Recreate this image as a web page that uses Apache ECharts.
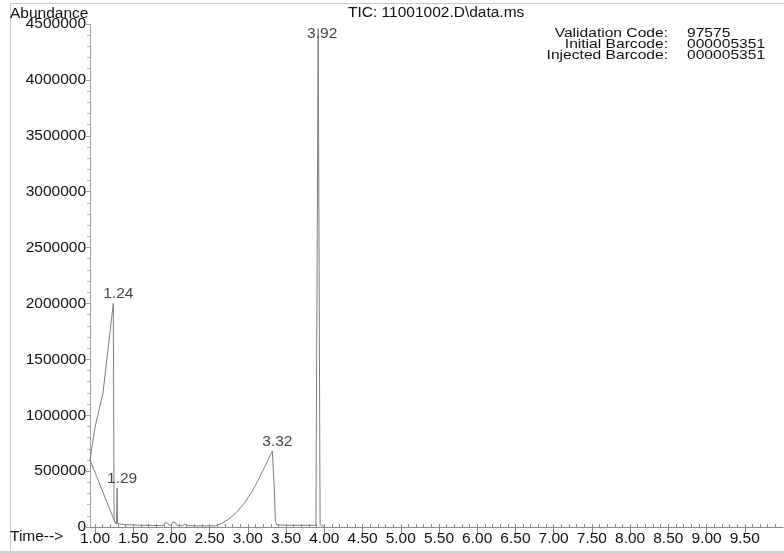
<!DOCTYPE html>
<html>
<head>
<meta charset="utf-8">
<script src="https://cdn.jsdelivr.net/npm/echarts@6/dist/echarts.min.js"></script>
<style>
  html, body { margin: 0; padding: 0; background: #ffffff; }
  #chart { width: 784px; height: 554px; }
</style>
</head>
<body>
<div id="chart"></div>
<script>
// ---- Data ----
const timeMin = [1.25, 1.24, 1.105, 1.00, 0.935, 1.26, 1.28, 1.285, 1.29, 1.295, 1.30, 1.35, 1.40, 1.50,
  1.60, 1.70, 1.80, 1.90, 1.92, 1.95, 1.97, 2.00, 2.02, 2.05, 2.07, 2.15, 2.18, 2.20, 2.30, 2.40,
  2.50, 2.58, 2.65, 2.75, 2.85, 2.95, 3.05, 3.15, 3.25, 3.32, 3.345, 3.36, 3.38, 3.50, 3.70, 3.89,
  3.92, 3.945, 3.96, 4.00];
const abundance = [60000, 2000000, 1200000, 890000, 600000, 45000, 25000, 30000, 350000, 30000, 30000, 25000, 20000, 18000,
  15000, 15000, 12000, 15000, 40000, 35000, 15000, 20000, 45000, 40000, 15000, 12000, 30000, 12000, 10000, 10000,
  10000, 12000, 30000, 70000, 130000, 210000, 310000, 440000, 580000, 680000, 350000, 50000, 20000, 15000, 15000, 15000,
  4460000, 20000, 10000, 5000];

const peakTimes = [1.24, 1.29, 3.32, 3.92];
const peakHeights = [2000000, 350000, 680000, 4460000];

const xLabelTicks = [1.00, 1.50, 2.00, 2.50, 3.00, 3.50, 4.00, 4.50, 5.00, 5.50, 6.00, 6.50, 7.00, 7.50, 8.00, 8.50, 9.00, 9.50];
const yTicks = [0, 500000, 1000000, 1500000, 2000000, 2500000, 3000000, 3500000, 4000000, 4500000];

const infoLabels = ['Validation Code:', 'Initial Barcode:', 'Injected Barcode:'];
const infoValues = ['97575', '000005351', '000005351'];
const titleText = 'TIC: 11001002.D\\data.ms';

// ---- Build ----
const FONT = 'Liberation Sans, Arial, sans-serif';
const TXT = '#111111';
const minorX = [];
for (let i = 10; i <= 99; i++) minorX.push(i / 10);

const lineData = timeMin.map((t, i) => [t, abundance[i]]);
const peakData = peakTimes.map((t, i) => ({
  value: [t, peakHeights[i]],
  label: { offset: i === 3 ? [4, 18] : [5, 3.5] }
}));

const X_MIN = 0.935, X_MAX = 10.0;
const gridPos = { left: 90, right: 1, top: 24, bottom: 27 };

const chart = echarts.init(document.getElementById('chart'), null, { renderer: 'canvas' });
chart.setOption({
  animation: false,
  backgroundColor: '#ffffff',
  grid: [Object.assign({}, gridPos), Object.assign({}, gridPos)],
  xAxis: [{
    type: 'value', gridIndex: 0, min: X_MIN, max: X_MAX,
    axisLine: { show: true, onZero: false, lineStyle: { color: '#8a8a8a', width: 1 } },
    axisTick: { show: true, inside: true, length: 3, customValues: minorX, lineStyle: { color: '#8a8a8a' } },
    axisLabel: { show: true, customValues: xLabelTicks, margin: 4, color: TXT, fontSize: 15.5, fontFamily: FONT,
      formatter: v => v.toFixed(2) },
    splitLine: { show: false }
  }, {
    type: 'value', gridIndex: 1, min: X_MIN, max: X_MAX,
    axisLine: { show: false, onZero: false },
    axisTick: { show: true, inside: false, length: 7, customValues: xLabelTicks, lineStyle: { color: '#8a8a8a' } },
    axisLabel: { show: false },
    splitLine: { show: false }
  }],
  yAxis: [{
    type: 'value', gridIndex: 0, min: 0, max: 4500000, interval: 500000,
    axisLine: { show: true, lineStyle: { color: '#a0a0a0', width: 1 } },
    axisTick: { show: true, inside: false, length: 4, lineStyle: { color: '#a0a0a0' } },
    minorTick: { show: true, splitNumber: 5, length: 3, lineStyle: { color: '#b0b0b0' } },
    axisLabel: { show: true, margin: 4, color: TXT, fontSize: 15.5, fontFamily: FONT,
      customValues: yTicks, formatter: v => String(v) },
    splitLine: { show: false }
  }, {
    type: 'value', gridIndex: 1, min: 0, max: 4500000, show: false
  }],
  series: [{
    type: 'line', xAxisIndex: 0, yAxisIndex: 0, data: lineData,
    showSymbol: false, symbol: 'none', smooth: false,
    lineStyle: { color: '#7e7e7e', width: 1 }, z: 3
  }, {
    type: 'scatter', xAxisIndex: 0, yAxisIndex: 0, data: peakData,
    symbolSize: 0, silent: true, z: 5,
    label: { show: true, position: 'top', distance: 5, color: TXT, fontSize: 15.5, fontFamily: FONT,
      formatter: p => p.value[0].toFixed(2) }
  }],
  graphic: [
    { type: 'line', shape: { x1: 10.5, y1: 3, x2: 10.5, y2: 551 }, style: { stroke: '#c8c8c8', lineWidth: 1 } },
    { type: 'line', shape: { x1: 10, y1: 3.5, x2: 784, y2: 3.5 }, style: { stroke: '#c8c8c8', lineWidth: 1 } },
    { type: 'rect', shape: { x: 0, y: 551, width: 784, height: 3 }, style: { fill: '#d0d0d0' } },
    { type: 'text', x: 10, y: 13.5, style: { text: 'Abundance', font: '15.5px ' + FONT, fill: TXT, align: 'left', verticalAlign: 'middle' } },
    { type: 'text', x: 10, y: 537, style: { text: 'Time-->', font: '15.5px ' + FONT, fill: TXT, align: 'left', verticalAlign: 'middle' } },
    { type: 'text', x: 348, y: 13, style: { text: titleText, font: '15.5px ' + FONT, fill: TXT, align: 'left', verticalAlign: 'middle' } },
    { type: 'text', x: 668, y: 28, scaleX: 1.2, style: { text: infoLabels.join('\n'), font: '13px ' + FONT, lineHeight: 11, fill: TXT, align: 'right', verticalAlign: 'top' } },
    { type: 'text', x: 687, y: 28, scaleX: 1.2, style: { text: infoValues.join('\n'), font: '13px ' + FONT, lineHeight: 11, fill: TXT, align: 'left', verticalAlign: 'top' } }
  ]
});
</script>
</body>
</html>
